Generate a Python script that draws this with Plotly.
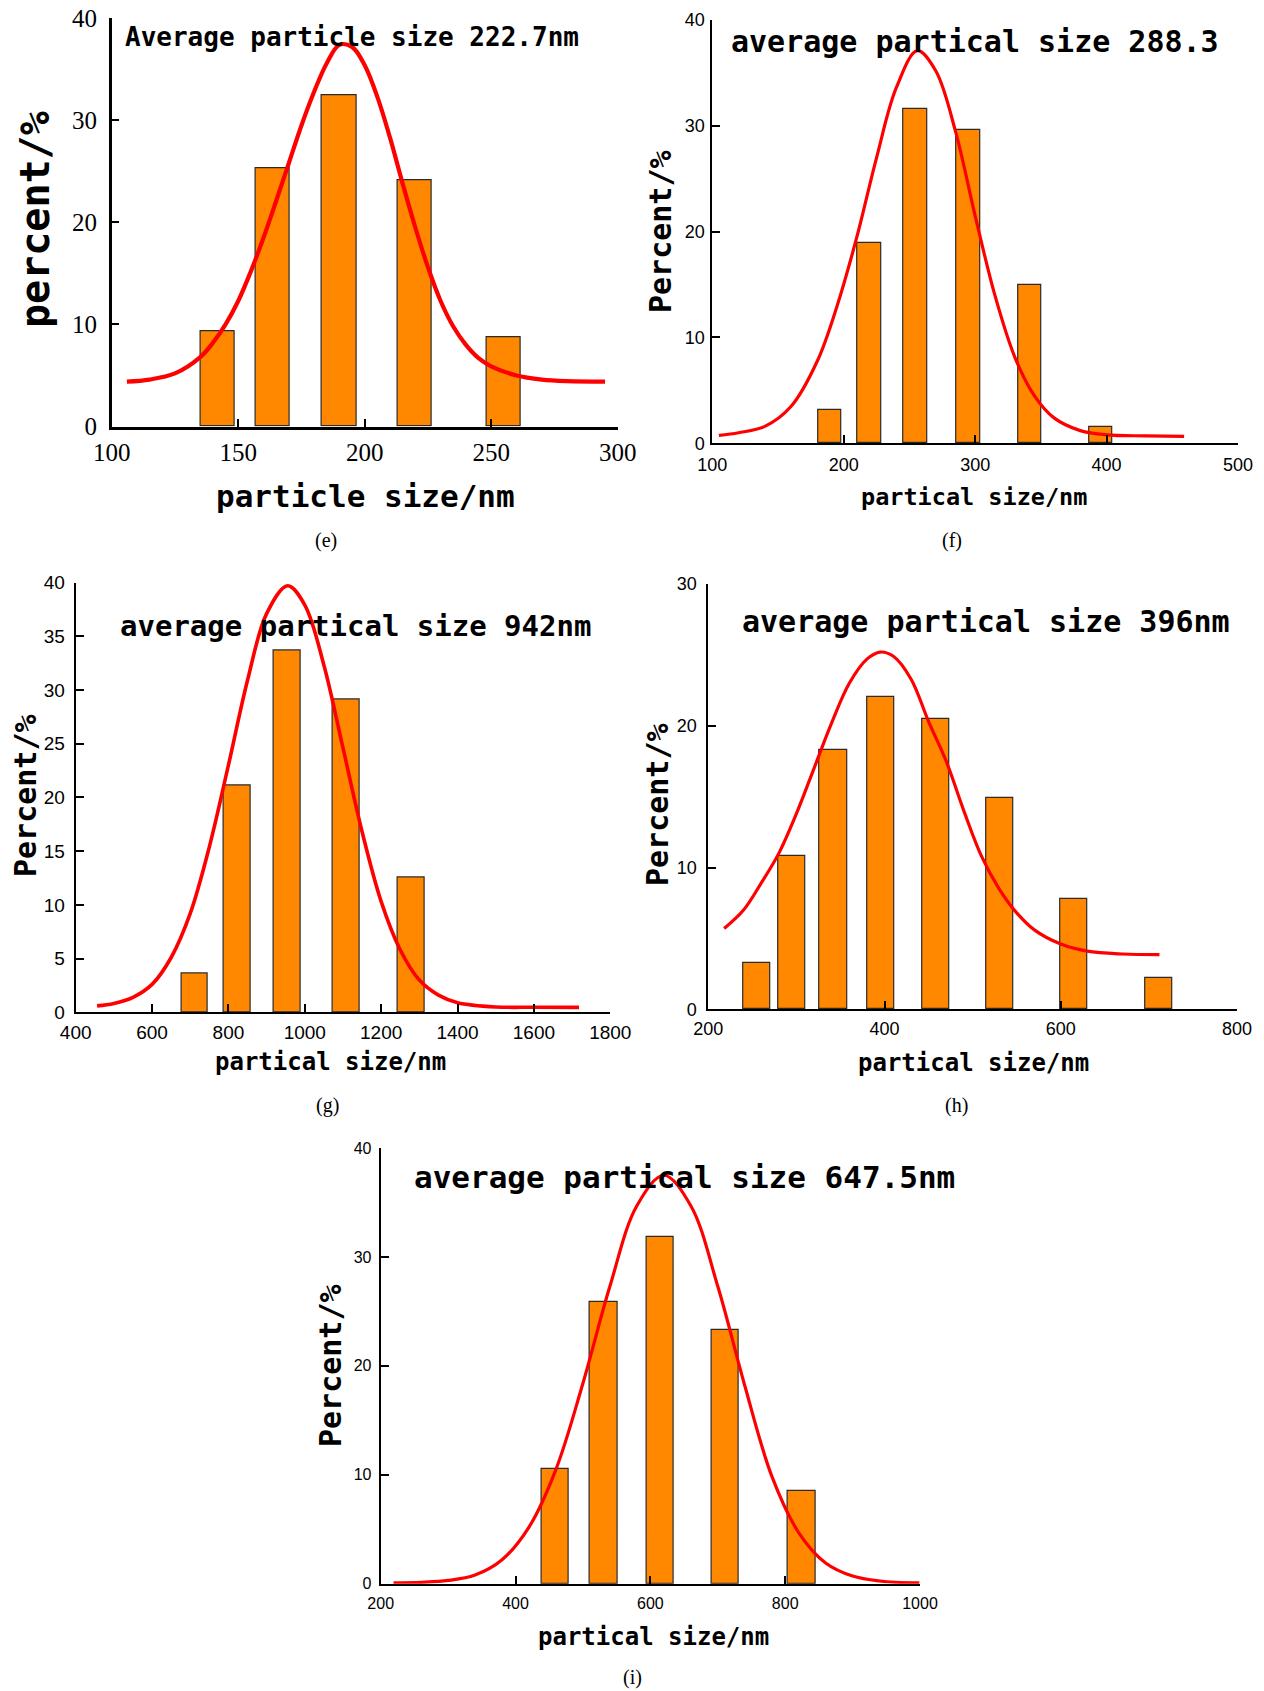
import plotly.graph_objects as go

# ---- panel (e) ----
e_size = [141.8, 163.8, 189.9, 219.9, 254.8]
e_pct = [9.3, 25.3, 32.5, 24.1, 8.7]
e_fit_x = [106, 115, 125, 135, 140, 145, 150, 155, 160, 165, 170, 175, 180, 185, 190, 195,
           200, 205, 210, 215, 220, 225, 230, 235, 240, 245, 250, 260, 270, 280, 295]
e_fit_y = [4.4, 4.6, 5.2, 6.8, 8.2, 10.0, 12.3, 15.2, 18.5, 22.1, 25.8, 29.5, 32.8, 35.6,
           37.4, 37.2, 35.4, 32.3, 28.3, 23.8, 19.5, 15.6, 12.3, 9.8, 8.0, 6.7, 5.9, 5.0,
           4.6, 4.45, 4.4]

# ---- panel (f) ----
f_size = [189.6, 219.5, 254.5, 294.7, 341.8, 395.8]
f_pct = [3.1, 18.9, 31.6, 29.6, 15.0, 1.5]
f_fit_x = [105, 120, 140, 160, 180, 195, 210, 225, 240, 256, 270, 285, 300, 315, 330, 345,
           360, 380, 400, 430, 459]
f_fit_y = [0.75, 1.0, 1.6, 3.5, 7.8, 13.0, 19.5, 27.0, 33.6, 37.1, 35.2, 29.5, 21.5, 14.0,
           8.2, 4.5, 2.4, 1.2, 0.8, 0.7, 0.65]

# ---- panel (g) ----
g_size = [712.0, 823.6, 954.1, 1108.5, 1278.6]
g_pct = [3.6, 21.1, 33.7, 29.1, 12.5]
g_fit_x = [456, 500, 550, 600, 650, 700, 750, 800, 850, 900, 955, 1000, 1050, 1100, 1150,
           1200, 1250, 1300, 1350, 1400, 1500, 1600, 1718]
g_fit_y = [0.6, 0.83, 1.4, 2.6, 5.1, 9.2, 15.4, 23.0, 30.9, 37.1, 39.7, 37.9, 32.3, 24.6,
           16.8, 10.3, 5.8, 3.0, 1.6, 0.9, 0.5, 0.47, 0.46]

# ---- panel (h) ----
h_size = [254.8, 294.5, 341.9, 395.6, 458.5, 530.7, 614.8, 711.6]
h_pct = [3.3, 10.8, 18.3, 22.0, 20.5, 14.9, 7.8, 2.2]
h_fit_x = [218, 240, 260, 280, 300, 320, 340, 360, 380, 395, 410, 430, 450, 470, 490, 510,
           530, 550, 570, 600, 630, 670, 712]
h_fit_y = [5.7, 7.0, 8.9, 11.0, 13.8, 17.0, 20.2, 23.0, 24.7, 25.2, 24.9, 23.3, 20.3, 17.5,
           14.0, 10.8, 8.5, 6.8, 5.6, 4.6, 4.1, 3.9, 3.86]

# ---- panel (i) ----
i_size = [458.8, 530.7, 614.7, 711.5, 824.4]
i_pct = [10.5, 25.9, 31.8, 23.3, 8.5]
i_fit_x = [219, 260, 300, 340, 380, 420, 460, 500, 540, 580, 620, 660, 700, 740, 780, 820,
           860, 900, 940, 999]
i_fit_y = [0.07, 0.13, 0.3, 0.8, 2.2, 5.2, 10.5, 18.4, 27.3, 34.7, 37.5, 34.7, 27.3, 18.2,
           9.9, 4.7, 1.9, 0.7, 0.25, 0.07]

W, H = 1264, 1691
BAR = "rgb(255,136,0)"
MONO = "DejaVu Sans Mono"


def xd(p):
    return p / W


def yd(p):
    return 1 - p / H


panels = [
    dict(size=e_size, pct=e_pct, fx=e_fit_x, fy=e_fit_y, bw=13.5, lw=4.2,
         xpx=(111.7, 617.7), xr=(100, 300), xt=[100, 150, 200, 250, 300],
         ypx=(426.5, 18.3), yr=(0, 40), yt=[0, 10, 20, 30, 40],
         tfont=dict(family="Liberation Serif", size=25, color="black"), xstand=2, ystand=7, alw=2.5),
    dict(size=f_size, pct=f_pct, fx=f_fit_x, fy=f_fit_y, bw=17.8, lw=3.2,
         xpx=(712.3, 1238), xr=(100, 500), xt=[100, 200, 300, 400, 500],
         ypx=(443.3, 20), yr=(0, 40), yt=[0, 10, 20, 30, 40],
         tfont=dict(family="Liberation Sans", size=18, color="black"), xstand=4, ystand=2, alw=2),
    dict(size=g_size, pct=g_pct, fx=g_fit_x, fy=g_fit_y, bw=69.5, lw=3.6,
         xpx=(75.7, 610.3), xr=(400, 1800), xt=list(range(400, 1801, 200)),
         ypx=(1012.3, 582.5), yr=(0, 40), yt=list(range(0, 41, 5)),
         tfont=dict(family="Liberation Sans", size=19, color="black"), xstand=2, ystand=5, alw=2),
    dict(size=h_size, pct=h_pct, fx=h_fit_x, fy=h_fit_y, bw=31.0, lw=3.2,
         xpx=(708.3, 1237), xr=(200, 800), xt=[200, 400, 600, 800],
         ypx=(1009.3, 584), yr=(0, 30), yt=[0, 10, 20, 30],
         tfont=dict(family="Liberation Sans", size=18, color="black"), xstand=2, ystand=6, alw=2),
    dict(size=i_size, pct=i_pct, fx=i_fit_x, fy=i_fit_y, bw=40.4, lw=3.2,
         xpx=(380.7, 920), xr=(200, 1000), xt=[200, 400, 600, 800, 1000],
         ypx=(1583.7, 1148), yr=(0, 40), yt=[0, 10, 20, 30, 40],
         tfont=dict(family="Liberation Sans", size=16, color="black"), xstand=4, ystand=4, alw=2),
]

fig = go.Figure()
layout = {}
for k, p in enumerate(panels, start=1):
    sfx = "" if k == 1 else str(k)
    xa, ya = "x" + sfx, "y" + sfx
    fig.add_trace(go.Bar(x=p["size"], y=p["pct"], width=p["bw"], xaxis=xa, yaxis=ya,
                         marker=dict(color=BAR, line=dict(color="#2a2a2a", width=1.2)),
                         showlegend=False))
    fig.add_trace(go.Scatter(x=p["fx"], y=p["fy"], mode="lines", xaxis=xa, yaxis=ya,
                             line=dict(color="#ff0000", width=p["lw"], shape="spline",
                                       smoothing=1.0),
                             showlegend=False))
    common = dict(showline=True, linecolor="black", linewidth=p["alw"], mirror=False,
                  ticks="inside", ticklen=8, tickwidth=2, tickcolor="black",
                  showgrid=False, zeroline=False, tickfont=p["tfont"], fixedrange=True,
                  automargin=False)
    layout["xaxis" + sfx] = dict(common, domain=[xd(p["xpx"][0]), xd(p["xpx"][1])],
                                 range=list(p["xr"]), tickvals=p["xt"], anchor=ya,
                                 ticklabelstandoff=p["xstand"])
    layout["yaxis" + sfx] = dict(common, domain=[yd(p["ypx"][0]), yd(p["ypx"][1])],
                                 range=list(p["yr"]), tickvals=p["yt"], anchor=xa,
                                 ticklabelstandoff=p["ystand"])

fig.update_layout(**layout)


def label(text, x, y, size, angle=0, family=MONO, bold=True):
    fig.add_annotation(text=f"<b>{text}</b>" if bold else text,
                       x=xd(x), y=yd(y), xref="paper", yref="paper",
                       xanchor="center", yanchor="middle", showarrow=False,
                       textangle=angle, font=dict(family=family, size=size, color="black"))


# panel headings
label("Average particle size 222.7nm", 351.7, 37, 26)
label("average partical size 288.3", 975, 41, 30)
label("average partical size 942nm", 355, 626, 29)
label("average partical size 396nm", 986, 622, 30)
label("average partical size 647.5nm", 684, 1177, 31)

# axis titles
label("percent/%", 35, 220, 40, angle=-90)
label("Percent/%", 661, 232, 30, angle=-90)
label("Percent/%", 25, 796, 30, angle=-90)
label("Percent/%", 657, 805, 30, angle=-90)
label("Percent/%", 330, 1366, 30, angle=-90)

label("particle size/nm", 365, 496, 31)
label("partical size/nm", 974, 497, 23.5)
label("partical size/nm", 330, 1062, 24)
label("partical size/nm", 973, 1063, 24)
label("partical size/nm", 653, 1637, 24)

# sub-figure captions
for cap, cx, cy in [("(e)", 326, 540), ("(f)", 952, 540), ("(g)", 327, 1105),
                    ("(h)", 956, 1105), ("(i)", 632, 1677)]:
    label(cap, cx, cy, 20, family="Liberation Serif", bold=False)

fig.update_layout(width=W, height=H, margin=dict(l=0, r=0, t=0, b=0, autoexpand=False),
                  paper_bgcolor="white", plot_bgcolor="white", bargap=0)
fig.write_html("out.html")
